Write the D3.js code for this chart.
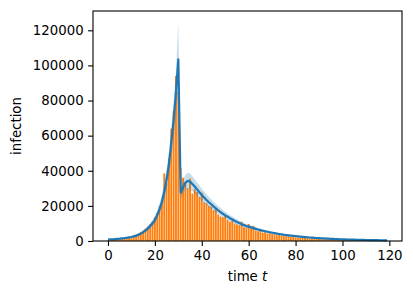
<!DOCTYPE html>
<html>
<head>
	<title>Infection</title>
	<style type="text/css">
		body {
			margin: 0;
			background: #fff;
		}
		text {
			font-family: "DejaVu Sans", sans-serif;
		}
	</style>
</head>
<body>
<section></section>
<script src="https://d3js.org/d3.v7.min.js"></script>
<script>

// observed daily infections (bars), one per day t = 0..119
var observed = [
	300, 500, 600, 800, 900, 1100, 1300, 1500, 1900, 2200,
	2600, 3000, 3500, 4300, 5200, 5800, 7000, 8200, 9600, 11000,
	13500, 16000, 19500, 23000, 38500, 33000, 47000, 64000, 74000, 94000,
	85000, 41500, 36000, 33000, 30000, 35500, 27000, 29500, 28000, 25000,
	27500, 22000, 21500, 20000, 19500, 17500, 18500, 15000, 14000, 13500,
	14500, 12000, 11000, 11500, 10000, 9500, 9000, 11000, 7800, 7600,
	9700, 7000, 8600, 6000, 5600, 6000, 4800, 5000, 4300, 4500,
	3900, 3800, 3300, 3600, 3000, 2900, 2700, 2800, 2300, 2400,
	2100, 2000, 1900, 1750, 1700, 1600, 1450, 1500, 1300, 1250,
	1200, 1100, 1050, 1000, 950, 880, 850, 800, 750, 700,
	680, 620, 600, 560, 530, 500, 470, 450, 420, 400,
	380, 360, 340, 320, 300, 290, 270, 260, 240, 230
];

// model median
var median = [
	800, 880, 970, 1070, 1180, 1300, 1450, 1620, 1820, 2050,
	2300, 2650, 3050, 3550, 4200, 5000, 6000, 7200, 8500, 10100,
	12000, 14800, 18200, 22500, 28000, 35000, 44000, 56000, 69000, 85000,
	103500, 27500, 30500, 33200, 34200, 33800, 32500, 31000, 29400, 27800,
	26200, 24800, 23400, 22100, 20900, 19700, 18600, 17500, 16500, 15500,
	14600, 13800, 13000, 12250, 11500, 10850, 10200, 9600, 9050, 8500,
	8200, 7750, 7330, 6930, 6550, 6200, 5870, 5550, 5250, 4970,
	4700, 4450, 4210, 3990, 3780, 3580, 3390, 3210, 3040, 2880,
	2730, 2590, 2450, 2320, 2200, 2090, 1980, 1880, 1780, 1690,
	1600, 1520, 1440, 1370, 1300, 1230, 1170, 1110, 1050, 1000,
	950, 900, 860, 815, 775, 735, 700, 665, 630, 600,
	570, 545, 520, 495, 470, 450, 430, 410, 390, 370
];

// upper / lower bounds of the shaded band
var bandHi = [
	1000, 1100, 1210, 1330, 1470, 1620, 1800, 2010, 2250, 2530,
	2840, 3260, 3740, 4350, 5130, 6080, 7260, 8680, 10200, 12100,
	14300, 17500, 21400, 26400, 32800, 40800, 51000, 64500, 79000, 97000,
	124500, 31500, 34800, 37800, 38900, 38400, 36900, 35200, 33400, 31600,
	29800, 28200, 26600, 25100, 23800, 22400, 21200, 19900, 18800, 17600,
	16600, 15700, 14800, 13950, 13100, 12350, 11600, 10950, 10300, 9700,
	9350, 8850, 8350, 7900, 7470, 7070, 6690, 6330, 5990, 5670,
	5360, 5080, 4800, 4550, 4310, 4080, 3870, 3660, 3470, 3280,
	3110, 2950, 2790, 2640, 2510, 2380, 2260, 2140, 2030, 1930,
	1820, 1730, 1640, 1560, 1480, 1400, 1330, 1270, 1200, 1140,
	1080, 1030, 980, 930, 880, 840, 800, 760, 720, 680,
	650, 620, 590, 560, 540, 510, 490, 470, 440, 420
];
var bandLo = [
	650, 720, 790, 870, 960, 1060, 1180, 1320, 1480, 1670,
	1870, 2150, 2480, 2890, 3420, 4070, 4880, 5860, 6920, 8220,
	9770, 12100, 14900, 18500, 23100, 28900, 36500, 46500, 57500, 71000,
	86000, 23800, 26500, 28900, 29700, 29400, 28300, 26900, 25500, 24200,
	22800, 21600, 20300, 19200, 18200, 17100, 16200, 15200, 14400, 13500,
	12700, 12000, 11300, 10650, 10000, 9440, 8870, 8350, 7870, 7400,
	7130, 6740, 6380, 6030, 5700, 5390, 5110, 4830, 4570, 4320,
	4090, 3870, 3660, 3470, 3290, 3110, 2950, 2790, 2640, 2510,
	2380, 2250, 2130, 2020, 1910, 1820, 1720, 1640, 1550, 1470,
	1390, 1320, 1250, 1190, 1130, 1070, 1020, 970, 910, 870,
	830, 780, 750, 710, 670, 640, 610, 580, 550, 520,
	500, 470, 450, 430, 410, 390, 370, 360, 340, 320
];

var xTicks = [0, 20, 40, 60, 80, 100, 120];
var yTicks = [0, 20000, 40000, 60000, 80000, 100000, 120000];

var width = 413;
var height = 295;
var margin = { left: 93, right: 11, top: 11, bottom: 54 };

var svg = d3.select('section').append("svg")
	.attr("width", width)
	.attr("height", height);

var x = d3.scaleLinear()
	.domain([-6.39, 125.39])
	.range([margin.left, width - margin.right]);

var y = d3.scaleLinear()
	.domain([0, 131000])
	.range([height - margin.bottom, margin.top]);

var days = d3.range(observed.length);

// Bars
svg.append("g")
	.attr("fill", "#ff7f0e")
	.selectAll("rect")
	.data(days)
	.join("rect")
		.attr("x", function(d) { return x(d - 0.4); })
		.attr("width", function(d) { return x(d + 0.4) - x(d - 0.4); })
		.attr("y", function(d) { return y(observed[d]); })
		.attr("height", function(d) { return y(0) - y(observed[d]); });

// Band
var area = d3.area()
	.x(function(d) { return x(d); })
	.y0(function(d) { return y(bandLo[d]); })
	.y1(function(d) { return y(bandHi[d]); });

svg.append("path")
	.datum(days)
	.attr("fill", "#1f77b4")
	.attr("fill-opacity", 0.25)
	.attr("d", area);

// Median line
var line = d3.line()
	.x(function(d) { return x(d); })
	.y(function(d) { return y(median[d]); });

svg.append("path")
	.datum(days)
	.attr("fill", "none")
	.attr("stroke", "#1f77b4")
	.attr("stroke-width", 2.2)
	.attr("stroke-linejoin", "round")
	.attr("d", line);

// Axes
var xAxis = svg.append("g")
	.attr("transform", "translate(0," + (height - margin.bottom) + ")")
	.call(d3.axisBottom(x).tickValues(xTicks).tickSize(4.9).tickPadding(4.5).tickSizeOuter(0));

var yAxis = svg.append("g")
	.attr("transform", "translate(" + margin.left + ",0)")
	.call(d3.axisLeft(y).tickValues(yTicks).tickFormat(d3.format("d")).tickSize(4.9).tickPadding(4.5).tickSizeOuter(0));

[xAxis, yAxis].forEach(function(a) {
	a.select(".domain").remove();
	a.selectAll("line").attr("stroke", "#000").attr("stroke-width", 1.1);
	a.selectAll("text")
		.attr("fill", "#000")
		.attr("font-size", "13.3px")
		.attr("font-family", "DejaVu Sans, sans-serif");
});

// Frame
svg.append("rect")
	.attr("x", margin.left)
	.attr("y", margin.top)
	.attr("width", width - margin.left - margin.right)
	.attr("height", height - margin.top - margin.bottom)
	.attr("fill", "none")
	.attr("stroke", "#000")
	.attr("stroke-width", 1.1);

// Labels
var xl = svg.append("text")
	.attr("x", (margin.left + width - margin.right) / 2)
	.attr("y", 281)
	.attr("text-anchor", "middle")
	.attr("font-size", "13.3px");
xl.append("tspan").text("time ");
xl.append("tspan").attr("font-style", "italic").text("t");

svg.append("text")
	.attr("transform", "translate(21," + ((margin.top + height - margin.bottom) / 2) + ") rotate(-90)")
	.attr("text-anchor", "middle")
	.attr("font-size", "13.3px")
	.text("infection");

</script>
</body>
</html>
